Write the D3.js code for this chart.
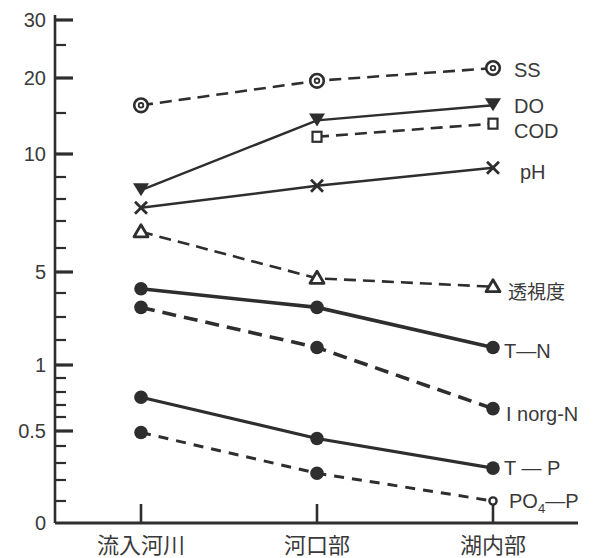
<!DOCTYPE html>
<html>
<head>
<meta charset="utf-8">
<script src="https://cdn.jsdelivr.net/npm/d3@7"></script>
<style>
  body { margin: 0; background: #fff; }
  text { fill: #3a3a3a; font-family: "Liberation Sans", Arial, sans-serif; }
  .cjk { font-family: "Noto Sans CJK JP", sans-serif; }
</style>
</head>
<body>
<script>
// categories along the x axis
var categories = ["流入河川", "河口部", "湖内部"];

// series values
var ssValues      = [16.1, 19.6, 21.5];
var doValues      = [8.4, 14.1, 16.1];
var codValues     = [null, 12.1, 13.7];
var phValues      = [7.6, 8.6, 9.4];
var clarityValues = [6.6, 4.7, 4.3];
var tnValues      = [4.2, 3.4, 1.7];
var inorgNValues  = [3.4, 1.7, 0.67];
var tpValues      = [0.76, 0.45, 0.27];
var po4pValues    = [0.49, 0.24, 0.1];

// y axis ticks (the original axis is hand drawn and not uniform)
var yMajor = [0, 0.5, 1, 5, 10, 20, 30];
var yMinor = [0.1, 0.2, 0.3, 0.4, 0.6, 0.7, 0.8, 0.9, 2, 3, 4, 6, 7, 8, 9, 15, 25];
var yLabels = ["0", "0.5", "1", "5", "10", "20", "30"];

var margin = {top: 20, right: 14, bottom: 35, left: 55},
    width = 594 - margin.left - margin.right,
    height = 558 - margin.top - margin.bottom;

var svg = d3.select("body").append("svg")
    .attr("width", 594)
    .attr("height", 558)
  .append("g")
    .attr("transform", "translate(" + margin.left + "," + margin.top + ")");

var x = d3.scalePoint().domain(categories).range([86, 438]);

// piecewise scale matching the spacing of the drawn ticks
var yBreaks = [0, 0.1, 0.2, 0.3, 0.4, 0.5, 0.6, 0.7, 0.8, 0.9, 1, 2, 3, 4, 5, 6, 7, 8, 9, 10, 15, 20, 25, 30];
var y = d3.scaleLinear()
    .domain(yBreaks)
    .range([503, 481, 460, 443, 426, 411, 397, 385, 372, 358, 345, 320, 297, 273, 252, 228, 201, 179, 157, 134, 93, 58, 25, 0]);

var ink = "#2e2e2e";

var series = [
  {id: "SS",      values: ssValues,      dash: "12 7", w: 2.6, mark: "ring",   label: "SS",       dx: 21, dy: 2},
  {id: "DO",      values: doValues,      dash: null,   w: 2.4, mark: "tridown",label: "DO",       dx: 21, dy: 0},
  {id: "COD",     values: codValues,     dash: "12 7", w: 2.6, mark: "square", label: "COD",      dx: 21, dy: 7},
  {id: "pH",      values: phValues,      dash: null,   w: 2.4, mark: "x",      label: "pH",       dx: 27, dy: 4},
  {id: "clarity", values: clarityValues, dash: "12 7", w: 2.6, mark: "triup",  label: "透視度",    dx: 15, dy: 5, cjk: true},
  {id: "TN",      values: tnValues,      dash: null,   w: 3.6, mark: "dot",    label: "T—N",      dx: 11, dy: 3},
  {id: "InorgN",  values: inorgNValues,  dash: "14 8", w: 3.6, mark: "dot",    label: "I norg-N", dx: 13, dy: 5},
  {id: "TP",      values: tpValues,      dash: null,   w: 3.2, mark: "dot",    label: "T — P",    dx: 11, dy: 0},
  {id: "PO4P",    values: po4pValues,    dash: "10 8", w: 3.0, mark: "dot",    label: "PO4-P",    dx: 16, dy: 0}
];

// axes
svg.append("line")
    .attr("x1", 0).attr("x2", 0)
    .attr("y1", -5).attr("y2", y(0))
    .attr("stroke", ink).attr("stroke-width", 2.6);
svg.append("line")
    .attr("x1", 0).attr("x2", width - 2)
    .attr("y1", y(0)).attr("y2", y(0))
    .attr("stroke", ink).attr("stroke-width", 2.8);

svg.selectAll(".major")
    .data(yMajor.filter(function(d) { return d > 0; }))
    .enter().append("line")
    .attr("x1", 0).attr("x2", 18)
    .attr("y1", function(d) { return y(d); })
    .attr("y2", function(d) { return y(d); })
    .attr("stroke", ink).attr("stroke-width", 3.2);

svg.selectAll(".minor")
    .data(yMinor)
    .enter().append("line")
    .attr("x1", 0).attr("x2", 11)
    .attr("y1", function(d) { return y(d); })
    .attr("y2", function(d) { return y(d); })
    .attr("stroke", ink).attr("stroke-width", 2.2);

svg.selectAll(".ylab")
    .data(yMajor)
    .enter().append("text")
    .attr("x", -9)
    .attr("y", function(d) { return y(d); })
    .attr("dy", "0.36em")
    .attr("text-anchor", "end")
    .style("font-size", "20px")
    .text(function(d, i) { return yLabels[i]; });

// category ticks and labels
svg.selectAll(".xtick")
    .data(categories)
    .enter().append("line")
    .attr("x1", function(d) { return x(d); })
    .attr("x2", function(d) { return x(d); })
    .attr("y1", y(0)).attr("y2", y(0) - 19)
    .attr("stroke", ink).attr("stroke-width", 2.6);

svg.selectAll(".xlab")
    .data(categories)
    .enter().append("text")
    .attr("class", "cjk")
    .attr("x", function(d) { return x(d); })
    .attr("y", y(0) + 30)
    .attr("text-anchor", "middle")
    .style("font-size", "22px")
    .text(function(d) { return d; });

// lines
var line = d3.line()
    .defined(function(d) { return d.v != null; })
    .x(function(d) { return x(d.c); })
    .y(function(d) { return y(d.v); });

var group = svg.selectAll(".series")
    .data(series)
    .enter().append("g")
    .attr("class", "series");

group.append("path")
    .attr("d", function(s) {
      return line(s.values.map(function(v, i) { return {c: categories[i], v: v}; }));
    })
    .attr("fill", "none")
    .attr("stroke", ink)
    .attr("stroke-width", function(s) { return s.w; })
    .attr("stroke-dasharray", function(s) { return s.dash; });

// markers
function drawMark(g, kind, cx, cy) {
  if (kind === "ring") {
    g.append("circle").attr("cx", cx).attr("cy", cy).attr("r", 6.8)
      .attr("fill", "#fff").attr("stroke", ink).attr("stroke-width", 2.6);
    g.append("circle").attr("cx", cx).attr("cy", cy).attr("r", 2.3)
      .attr("fill", "none").attr("stroke", ink).attr("stroke-width", 1.8);
  } else if (kind === "tridown") {
    g.append("path")
      .attr("d", "M" + (cx - 8) + "," + (cy - 7) + "L" + (cx + 8) + "," + (cy - 7) + "L" + cx + "," + (cy + 6) + "Z")
      .attr("fill", ink);
  } else if (kind === "triup") {
    g.append("path")
      .attr("d", "M" + cx + "," + (cy - 7) + "L" + (cx + 7) + "," + (cy + 5) + "L" + (cx - 7) + "," + (cy + 5) + "Z")
      .attr("fill", "#fff").attr("stroke", ink).attr("stroke-width", 2.8).attr("stroke-linejoin", "round");
  } else if (kind === "square") {
    g.append("rect").attr("x", cx - 4.5).attr("y", cy - 5).attr("width", 9).attr("height", 10)
      .attr("fill", "#fff").attr("stroke", ink).attr("stroke-width", 2.2);
  } else if (kind === "x") {
    g.append("path")
      .attr("d", "M" + (cx - 6) + "," + (cy - 6) + "L" + (cx + 6) + "," + (cy + 6) +
                 "M" + (cx + 6) + "," + (cy - 6) + "L" + (cx - 6) + "," + (cy + 6))
      .attr("stroke", ink).attr("stroke-width", 2.8);
  } else if (kind === "dot") {
    g.append("circle").attr("cx", cx).attr("cy", cy).attr("r", 6.8).attr("fill", ink);
  } else if (kind === "hollow") {
    g.append("circle").attr("cx", cx).attr("cy", cy).attr("r", 3.6)
      .attr("fill", "#fff").attr("stroke", ink).attr("stroke-width", 2.4);
  }
}

group.each(function(s) {
  var g = d3.select(this);
  s.values.forEach(function(v, i) {
    if (v == null) return;
    var kind = s.mark;
    if (s.id === "PO4P" && i === s.values.length - 1) kind = "hollow";
    drawMark(g, kind, x(categories[i]), y(v));
  });

  var lastV = s.values[s.values.length - 1];
  var t = g.append("text")
    .attr("x", x(categories[categories.length - 1]) + s.dx)
    .attr("y", y(lastV) + s.dy)
    .attr("dy", "0.36em")
    .style("font-size", "20px");
  if (s.cjk) t.attr("class", "cjk").style("font-size", "19px");
  if (s.id === "PO4P") {
    t.append("tspan").text("PO");
    t.append("tspan").attr("dy", "5").style("font-size", "13px").text("4");
    t.append("tspan").attr("dy", "-5").text("—P");
  } else {
    t.text(s.label);
  }
});
</script>
</body>
</html>
